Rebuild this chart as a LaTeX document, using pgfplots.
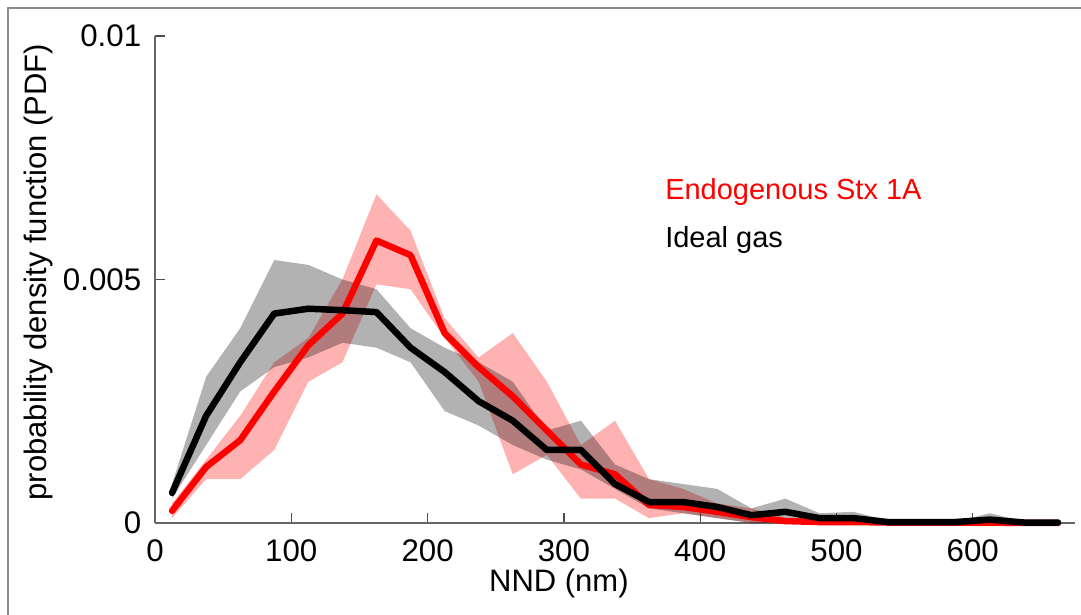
\documentclass[border=0pt]{standalone}
\usepackage{fontspec}
\setmainfont{Liberation Sans}
\usepackage{pgfplots}
\pgfplotsset{compat=1.18}
\usepgfplotslibrary{fillbetween}
\usepackage{pgfplotstable}

% x = bin centre (nm); r* = Endogenous Stx 1A, b* = ideal gas
\pgfplotstableread{
x      rm       rlo      rhi      bm       blo      bhi
12.5   0.00025  0.0001   0.0004   0.00062  0.0005   0.0008
37.5   0.00115  0.0009   0.0013   0.0022   0.0016   0.0030
62.5   0.0017   0.0009   0.0022   0.0033   0.0027   0.0040
87.5   0.0027   0.0015   0.0033   0.0043   0.0032   0.0054
112.5  0.00365  0.0029   0.0038   0.0044   0.0034   0.0053
137.5  0.0043   0.0033   0.0050   0.00437  0.0037   0.0050
162.5  0.0058   0.0049   0.00675  0.00433  0.0036   0.0048
187.5  0.0055   0.0048   0.0060   0.0036   0.0033   0.0040
212.5  0.0039   0.0038   0.0042   0.0031   0.0023   0.0036
237.5  0.0032   0.0029   0.0034   0.0025   0.0020   0.0033
262.5  0.0026   0.0010   0.0039   0.0021   0.0016   0.0029
287.5  0.0019   0.0014   0.0029   0.0015   0.0013   0.0019
312.5  0.0012   0.0005   0.0016   0.0015   0.0011   0.0021
337.5  0.0010   0.0005   0.0021   0.0008   0.0007   0.0012
362.5  0.00037  0.0001   0.0009   0.00043  0.0003   0.0009
387.5  0.00033  0.0002   0.0007   0.00043  0.0002   0.0008
412.5  0.00023  0.0001   0.0004   0.00033  0.0001   0.0007
437.5  0.00012  0.0000   0.0003   0.00016  0.0000   0.0003
462.5  0.00004  0.0000   0.0001   0.00023  0.0000   0.0005
487.5  0.00002  0.0000   0.0001   0.0001   0.0000   0.0002
512.5  0.00002  0.0000   0.0001   0.0001   0.0000   0.00023
537.5  0.00001  0.0000   0.00003  0.00002  0.0000   0.00005
562.5  0.00001  0.0000   0.00003  0.00002  0.0000   0.00003
587.5  0.00001  0.0000   0.00003  0.00002  0.0000   0.00003
612.5  0.00001  0.0000   0.00003  0.00007  0.0000   0.0002
637.5  0.0      0.0      0.00002  0.00001  0.0000   0.00003
662.5  0.0      0.0      0.00001  0.00001  0.0000   0.00002
}\nnd

\begin{document}
\begin{tikzpicture}
\begin{axis}[
    scale only axis,
    width=368pt, height=194.8pt,
    xmin=0, xmax=675, ymin=0, ymax=0.01,
    axis x line*=bottom, axis y line*=left,
    axis line style={black!60, line width=0.6pt},
    xtick={0,100,...,600},
    ytick={0,0.005,0.01},
    yticklabels={0,0.005,0.01},
    scaled y ticks=false,
    tick align=inside,
    major tick length=4pt,
    tick style={black!70, line width=0.5pt},
    ticklabel style={font=\fontsize{12.5}{14}\selectfont},
    xticklabel style={yshift=-3pt},
    yticklabel style={xshift=-2pt},
    /pgf/number format/assume math mode=true,
    xlabel={NND (nm)},
    ylabel={probability density function (PDF)},
    xlabel style={font=\fontsize{12.4}{14}\selectfont, at={(rel axis cs:0.439,0)}, anchor=north, yshift=-15pt},
    ylabel style={font=\fontsize{12.4}{14}\selectfont, at={(rel axis cs:0,0.515)}, anchor=center, yshift=46.5pt},
    clip=false,
]
\addplot[name path=ru, draw=none] table[x=x, y=rhi] {\nnd};
\addplot[name path=rl, draw=none] table[x=x, y=rlo] {\nnd};
\addplot[red, draw=none, fill opacity=0.3] fill between[of=ru and rl];
\addplot[red, line width=2.6pt, line cap=round, line join=round] table[x=x, y=rm] {\nnd};
\addplot[name path=bu, draw=none] table[x=x, y=bhi] {\nnd};
\addplot[name path=bl, draw=none] table[x=x, y=blo] {\nnd};
\addplot[black, draw=none, fill opacity=0.3] fill between[of=bu and bl];
\addplot[black, line width=2.6pt, line cap=round, line join=round] table[x=x, y=bm] {\nnd};

\node[anchor=base west, inner sep=0pt, text=red, font=\fontsize{11.6}{13}\selectfont]
    at (axis cs:374,0.00665) {Endogenous Stx 1A};
\node[anchor=base west, inner sep=0pt, font=\fontsize{11.6}{13}\selectfont]
    at (axis cs:374,0.00565) {Ideal gas};
\end{axis}
\draw[black!45, line width=0.8pt] (-58.8pt,-40pt) -- (-58.8pt,206pt) -- (380pt,206pt);
\pgfresetboundingbox
\useasboundingbox (-62pt,-36.4pt) rectangle (370.4pt,209.2pt);
\end{tikzpicture}
\end{document}
